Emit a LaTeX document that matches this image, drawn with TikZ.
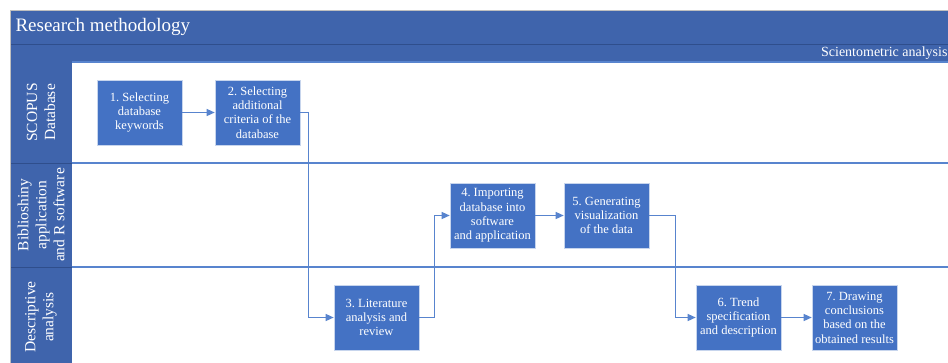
\documentclass[tikz,border=0pt]{standalone}
\usepackage{fontspec}
\setmainfont{Liberation Serif}
\usetikzlibrary{arrows.meta}
\definecolor{headblue}{RGB}{63,100,172}
\definecolor{boxblue}{RGB}{68,114,196}
\definecolor{lineblue}{RGB}{88,132,206}
\definecolor{darkline}{RGB}{47,78,140}
\tikzstyle{process} = [rectangle, minimum width=85pt, minimum height=65pt, inner sep=1pt, align=center, draw=white!70!boxblue, line width=0.6pt, fill=boxblue, text=white, font=\fontsize{12.5}{14.3}\selectfont]
\tikzstyle{lane} = [rotate=90, align=center, text=white, font=\fontsize{15.5}{18}\selectfont]
\tikzstyle{arrow} = [line width=1.3pt, draw=lineblue, ->, >={Triangle[length=8pt,width=7pt]}]
\frenchspacing
\begin{document}
\begin{tikzpicture}[x=1pt, y=-1pt, node distance=116pt]
	\clip (0,0) rectangle (948,362);
	\fill[white] (0,0) rectangle (948,362);
	%bands and lanes
	\fill[headblue] (10,10) rectangle (960,62);
	\draw[darkline, line width=0.8pt] (10,44) -- (960,44);
	\fill[headblue] (10,62) rectangle (72,370);
	\draw[lineblue, line width=1.5pt] (72,62) -- (960,62);
	\draw[lineblue, line width=1.5pt] (72,163) -- (960,163);
	\draw[lineblue, line width=1.5pt] (72,267) -- (960,267);
	\draw[darkline, line width=0.8pt] (10,163) -- (72,163);
	\draw[darkline, line width=0.8pt] (10,267) -- (72,267);
	\draw[black!25, line width=0.5pt] (10,10) rectangle (960,370);
	\node (title) [anchor=west, text=white, font=\fontsize{19}{22}\selectfont] at (12,27) {Research methodology};
	\node (sub) [anchor=east, text=white, font=\fontsize{14}{16}\selectfont] at (951,53) {Scientometric analysis};
	\node (l1) [lane] at (41,112.5) {SCOPUS\\Database};
	\node (l2) [lane] at (41,215) {Biblioshiny\\application\\and R software};
	\node (l3) [lane] at (41,317) {Descriptive\\analysis};
	%steps
	\node (n1) [process] at (139.5,112.5) {1. Selecting\\database\\keywords};
	\node (n2) [process, right of=n1, xshift=2pt] {2. Selecting\\additional\\criteria of the\\database};
	\node (n3) [process] at (376.5,317.5) {3. Literature\\analysis and\\review};
	\node (n4) [process] at (492.5,215.5) {4. Importing\\database into\\software\\and application};
	\node (n5) [process, right of=n4, xshift=-2pt] {5. Generating\\visualization\\of the data};
	\node (n6) [process] at (738.5,317.5) {6. Trend\\specification\\and description};
	\node (n7) [process, right of=n6] {7. Drawing\\conclusions\\based on the\\obtained results};
	%lines
	\draw [arrow] (n1) -- (n2);
	\draw [arrow] (n2.east) -- ++(8,0) |- (n3);
	\draw [arrow] (n3.east) -- ++(15,0) |- (n4);
	\draw [arrow] (n4) -- (n5);
	\draw [arrow] (n5.east) -- ++(26,0) |- (n6);
	\draw [arrow] (n6) -- (n7);
\end{tikzpicture}
\end{document}
